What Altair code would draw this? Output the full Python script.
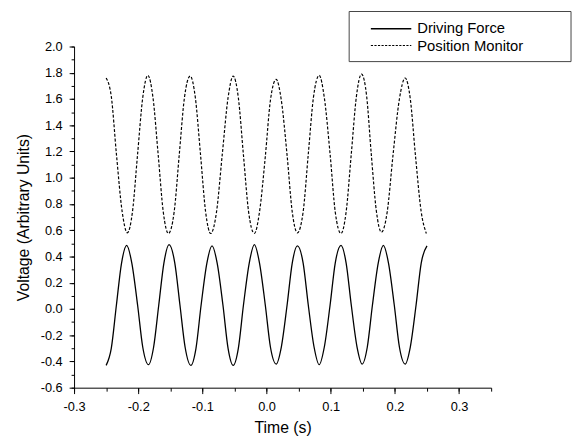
import altair as alt
import pandas as pd

# ---- data ----
series_names = ["Driving Force", "Position Monitor"]

drive_t = [-0.250, -0.242, -0.234, -0.226, -0.218, -0.210, -0.201, -0.193, -0.184,
           -0.176, -0.168, -0.160, -0.152, -0.143, -0.135, -0.127, -0.118,
           -0.110, -0.102, -0.093, -0.085, -0.077, -0.068, -0.060, -0.052,
           -0.044, -0.036, -0.027, -0.019, -0.011, -0.002, 0.006, 0.015,
           0.023, 0.032, 0.040, 0.048, 0.057, 0.065, 0.074, 0.082,
           0.090, 0.099, 0.107, 0.116, 0.124, 0.132, 0.141, 0.149,
           0.157, 0.165, 0.174, 0.182, 0.190, 0.199, 0.207, 0.216,
           0.224, 0.233, 0.241, 0.250]
drive_v = [-0.43, -0.30, 0.03, 0.35, 0.485, 0.35, 0.03, -0.29, -0.425,
           -0.29, 0.03, 0.35, 0.49, 0.35, 0.03, -0.29, -0.43,
           -0.30, 0.03, 0.35, 0.48, 0.35, 0.03, -0.30, -0.43,
           -0.30, 0.03, 0.35, 0.49, 0.35, 0.03, -0.29, -0.42,
           -0.29, 0.03, 0.35, 0.48, 0.35, 0.03, -0.29, -0.425,
           -0.29, 0.03, 0.35, 0.485, 0.35, 0.03, -0.29, -0.42,
           -0.29, 0.03, 0.35, 0.485, 0.35, 0.03, -0.29, -0.42,
           -0.29, 0.03, 0.35, 0.48]

pos_t = [-0.250, -0.242, -0.234, -0.225, -0.217, -0.209, -0.201, -0.193, -0.185,
         -0.177, -0.169, -0.161, -0.153, -0.144, -0.136, -0.128, -0.119,
         -0.111, -0.103, -0.095, -0.087, -0.078, -0.069, -0.060, -0.052,
         -0.044, -0.036, -0.028, -0.019, -0.011, -0.002, 0.006, 0.015,
         0.023, 0.032, 0.040, 0.048, 0.057, 0.065, 0.073, 0.082,
         0.090, 0.099, 0.107, 0.116, 0.124, 0.132, 0.140, 0.148,
         0.156, 0.163, 0.171, 0.179, 0.188, 0.197, 0.207, 0.216,
         0.224, 0.232, 0.241, 0.249]
pos_v = [1.76, 1.62, 1.18, 0.74, 0.58, 0.74, 1.18, 1.61, 1.78,
         1.61, 1.18, 0.74, 0.575, 0.74, 1.18, 1.61, 1.775,
         1.61, 1.18, 0.74, 0.575, 0.74, 1.18, 1.61, 1.775,
         1.61, 1.17, 0.74, 0.575, 0.74, 1.16, 1.59, 1.75,
         1.59, 1.17, 0.74, 0.58, 0.74, 1.18, 1.61, 1.78,
         1.61, 1.18, 0.74, 0.575, 0.74, 1.18, 1.62, 1.79,
         1.62, 1.19, 0.75, 0.585, 0.74, 1.17, 1.60, 1.76,
         1.60, 1.17, 0.74, 0.575]

x_major = [-0.3, -0.2, -0.1, 0.0, 0.1, 0.2, 0.3]
x_minor = [-0.3, -0.25, -0.2, -0.15, -0.1, -0.05, 0.0, 0.05, 0.1, 0.15,
           0.2, 0.25, 0.3, 0.35]
y_major = [-0.6, -0.4, -0.2, 0.0, 0.2, 0.4, 0.6, 0.8, 1.0, 1.2, 1.4, 1.6,
           1.8, 2.0]
y_minor = [-0.6, -0.5, -0.4, -0.3, -0.2, -0.1, 0.0, 0.1, 0.2, 0.3, 0.4,
           0.5, 0.6, 0.7, 0.8, 0.9, 1.0, 1.1, 1.2, 1.3, 1.4, 1.5, 1.6,
           1.7, 1.8, 1.9, 2.0]

FONT = "Liberation Sans"

df_drive = pd.DataFrame({"t": drive_t, "v": drive_v, "series": series_names[0]})
df_pos = pd.DataFrame({"t": pos_t, "v": pos_v, "series": series_names[1]})

lbl = "(datum.value < 0 ? '-' : '') + format(abs(datum.value), '.1f')"

x_axis = alt.Axis(
    values=x_major, title="Time (s)", grid=False, orient="bottom",
    labelExpr=lbl, tickSize=6,
    labelPadding=7, labelOverlap=False, labelFlush=False,
    domainColor="black", tickColor="black", labelColor="black",
    labelFont=FONT, labelFontSize=13,
    titleFont=FONT, titleFontSize=16, titleFontWeight="normal", titleColor="black",
    titleX=211.5, titleY=45.7, titleBaseline="alphabetic", titleAlign="center",
)
y_axis = alt.Axis(
    values=y_major, title="Voltage (Arbitrary Units)", grid=False, orient="left",
    labelExpr=lbl, tickSize=5,
    labelPadding=7, labelOverlap=False, labelFlush=False,
    domainColor="black", tickColor="black", labelColor="black",
    labelFont=FONT, labelFontSize=13,
    titleFont=FONT, titleFontSize=16, titleFontWeight="normal", titleColor="black",
    titleX=-46.6, titleY=173, titleAngle=270, titleBaseline="alphabetic", titleAlign="center",
)
x_axis_minor = alt.Axis(
    values=x_minor, title="", grid=False, orient="bottom", labels=False,
    tickSize=3.5, domain=False, tickColor="black",
)
y_axis_minor = alt.Axis(
    values=y_minor, title="", grid=False, orient="left", labels=False,
    tickSize=3, domain=False, tickColor="black",
)

xs = alt.Scale(domain=[-0.3, 0.35], nice=False, zero=False)
ys = alt.Scale(domain=[-0.6, 2.0], nice=False, zero=False)

drive = alt.Chart(df_drive).mark_line(
    interpolate="monotone", color="black", strokeWidth=1.3
).encode(
    x=alt.X("t:Q", scale=xs, axis=x_axis),
    y=alt.Y("v:Q", scale=ys, axis=y_axis),
)
pos = alt.Chart(df_pos).mark_line(
    interpolate="monotone", color="black", strokeWidth=1.2, strokeDash=[3, 1.8]
).encode(
    x=alt.X("t:Q", scale=xs, axis=x_axis_minor),
    y=alt.Y("v:Q", scale=ys, axis=y_axis_minor),
)

# ---- legend box ----
leg_df = pd.DataFrame({"label": series_names})
box = alt.Chart(leg_df.head(1)).mark_rect(
    fillOpacity=0, stroke="#444444", strokeWidth=1
).encode(x=alt.value(279), x2=alt.value(504), y=alt.value(-35.5), y2=alt.value(15.3))
line1 = alt.Chart(leg_df.head(1)).mark_rule(color="black", strokeWidth=1.3).encode(
    x=alt.value(301), x2=alt.value(342), y=alt.value(-18))
line2 = alt.Chart(leg_df.tail(1)).mark_rule(
    color="black", strokeWidth=1.2, strokeDash=[2.2, 1.4]
).encode(x=alt.value(301), x2=alt.value(342), y=alt.value(-1))
text1 = alt.Chart(leg_df.head(1)).mark_text(
    align="left", baseline="alphabetic", font=FONT, fontSize=15, color="black"
).encode(x=alt.value(348), y=alt.value(-13.3), text="label:N")
text2 = alt.Chart(leg_df.tail(1)).mark_text(
    align="left", baseline="alphabetic", font=FONT, fontSize=15, color="black"
).encode(x=alt.value(348), y=alt.value(4.3), text="label:N")

chart = alt.layer(drive, pos, box, line1, line2, text1, text2).resolve_axis(
    x="independent", y="independent"
).properties(
    width=423, height=346,
    autosize=alt.AutoSizeParams(type="none"),
    padding={"left": 67, "top": 36, "right": 83, "bottom": 50},
    background="white",
).configure_view(strokeWidth=0)

chart.save("out.html", embed_options={"renderer": "svg", "actions": False})
